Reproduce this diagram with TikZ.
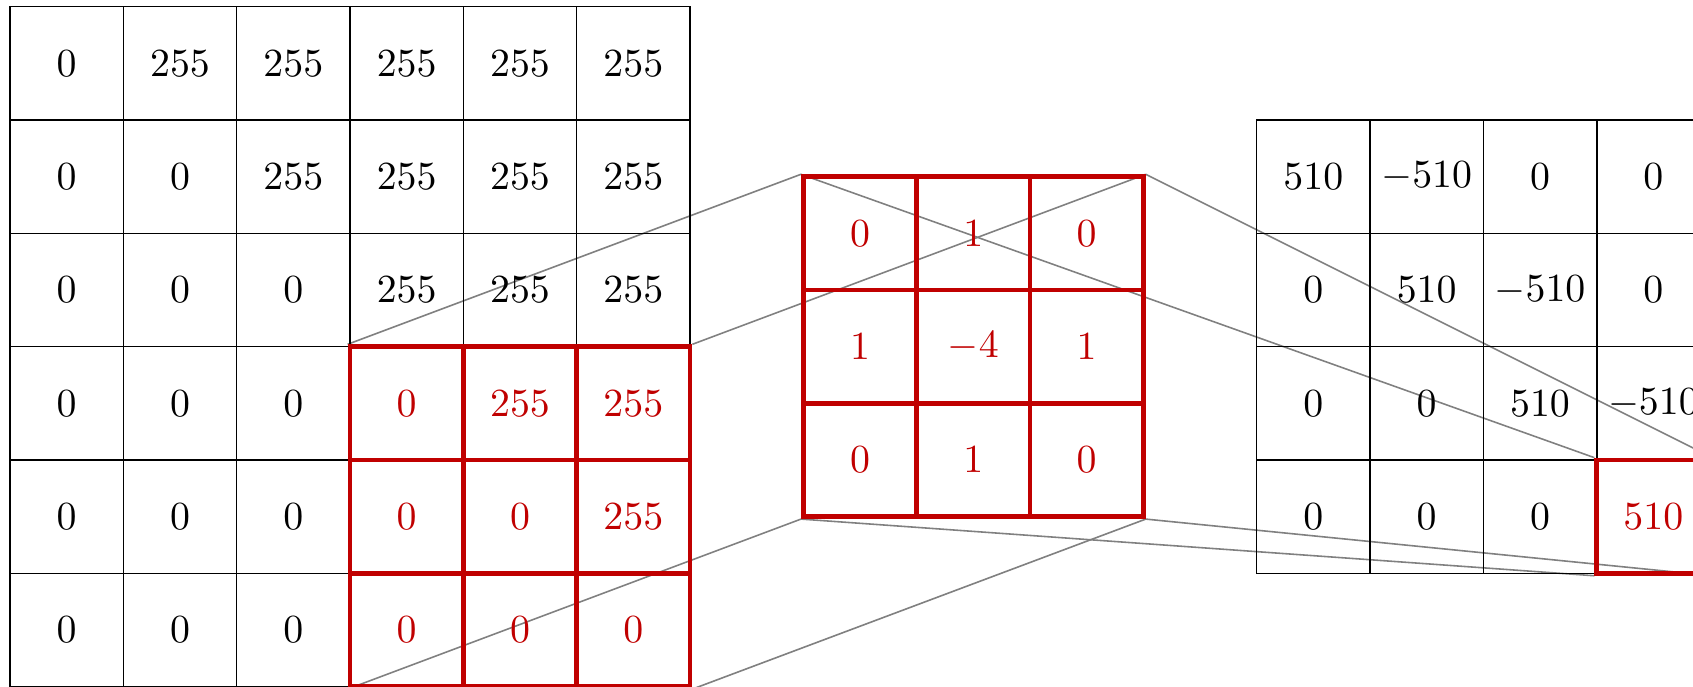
\documentclass[tikz,border=0pt]{standalone}
\usetikzlibrary{backgrounds}
\definecolor{hl}{RGB}{192,0,0}
\tikzset{
  cell0/.style={draw=black, line width=0.4pt, minimum size=1cm, inner sep=0pt, font=\normalsize},
  cell1/.style={draw=hl, line width=1.2pt, text=hl, minimum size=1cm, inner sep=0pt, font=\normalsize},
  link/.style={draw=gray, line width=0.4pt}
}
\begin{document}
\begin{tikzpicture}
\clip (-0.0882,0.059) rectangle (14.850,-5.994);
% input image
\foreach \row [count=\r] in {{0,255,255,255,255,255},{0,0,255,255,255,255},{0,0,0,255,255,255},{0,0,0,0,255,255},{0,0,0,0,0,255},{0,0,0,0,0,0}}{
  \foreach \v [count=\c] in \row {
    \pgfmathtruncatemacro\isred{and(\r>3,\c>3)}
    \node[cell\isred] (L-\r-\c) at (\c-0.5,-\r+0.5) {$\v$};
  }
}
% kernel
\foreach \row [count=\r] in {{0,1,0},{1,-4,1},{0,1,0}}{
  \foreach \v [count=\c] in \row {
    \node[cell1] (K-\r-\c) at (7+\c-0.5,-1.5-\r+0.5) {$\v$};
  }
}
% output
\foreach \row [count=\r] in {{510,-510,0,0},{0,510,-510,0},{0,0,510,-510},{0,0,0,510}}{
  \foreach \v [count=\c] in \row {
    \pgfmathtruncatemacro\isred{and(\r>3,\c>3)}
    \node[cell\isred] (R-\r-\c) at (11+\c-0.5,-1-\r+0.5) {$\v$};
  }
}
\begin{pgfonlayer}{background}
\draw[link] (L-4-4.north west) -- (K-1-1.north west);
\draw[link] (L-4-6.north east) -- (K-1-3.north east);
\draw[link] (L-6-4.south west) -- (K-3-1.south west);
\draw[link] (L-6-6.south east) -- (K-3-3.south east);
\draw[link] (K-1-1.north west) -- (R-4-4.north west);
\draw[link] (K-1-3.north east) -- (R-4-4.north east);
\draw[link] (K-3-1.south west) -- (R-4-4.south west);
\draw[link] (K-3-3.south east) -- (R-4-4.south east);
\end{pgfonlayer}
\end{tikzpicture}
\end{document}
